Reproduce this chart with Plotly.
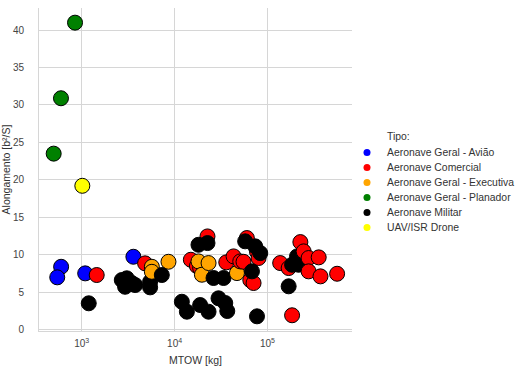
import plotly.graph_objects as go

# Legend categories (in legend order) and colours
categorias = ["Aeronave Geral - Avião", "Aeronave Comercial", "Aeronave Geral - Executiva",
              "Aeronave Geral - Planador", "Aeronave Militar", "UAV/ISR Drone"]
cores = ["blue", "red", "orange", "green", "black", "yellow"]

# Data points in drawing order: MTOW [kg], aspect ratio, type index
mtow = [847, 598, 499, 1015,
        600, 545, 1090, 3600,
        1190, 2700, 3055, 2930, 3760, 3460, 5450, 5450,
        1450, 4810, 5690, 5690, 8590, 7280,
        22600, 14960, 17380, 18840, 18070, 19680, 23200, 18070, 22600,
        26250, 33650, 35980, 43150, 46900, 50900, 55200,
        59980, 57500, 77100, 80200, 73800, 83600, 65300, 70800, 68100,
        11970, 13560, 18840, 23200, 29700, 35100, 36900, 77100,
        137000, 169000, 184000, 208000, 216000, 226000, 245000, 277000, 356000,
        277000, 372000, 562000, 169000, 184000]
along = [41.0, 30.9, 23.5, 19.2,
         8.38, 6.97, 7.5, 9.72,
         3.5, 6.61, 6.84, 5.71, 5.94, 6.21, 6.38, 5.63,
         7.28, 8.84, 8.38, 7.71, 9.05, 7.28,
         12.44, 9.32, 8.48, 8.21, 9.1, 7.32, 8.88, 11.32, 11.55,
         6.88, 6.88, 8.97, 9.77, 7.54, 9.1, 9.05,
         12.22, 11.78, 10.39, 9.55, 11.11, 10.21, 6.6, 6.21, 7.77,
         3.71, 2.38, 3.27, 2.38, 4.17, 3.54, 2.47, 1.76,
         8.88, 8.21, 8.65, 9.77, 8.65, 11.68, 10.44, 9.55, 9.64,
         7.77, 7.1, 7.45, 5.77, 1.9]
tipo = [3, 3, 3, 5,
        0, 0, 0, 0,
        4, 4, 4, 4, 4, 4, 4, 4,
        1, 1, 2, 2, 2, 4,
        1, 1, 1, 1, 2, 2, 2, 4, 4,
        4, 4, 1, 1, 2, 1, 1,
        1, 4, 1, 1, 4, 4, 1, 1, 4,
        4, 4, 4, 4, 4, 4, 4, 4,
        1, 1, 4, 4, 4, 1, 1, 1, 1,
        1, 1, 1, 4, 1]

x_ticks = [1000, 10000, 100000]
x_ticktext = ["10<sup>3</sup>", "10<sup>4</sup>", "10<sup>5</sup>"]
y_ticks = [0, 5, 10, 15, 20, 25, 30, 35, 40]
legend_title = "Tipo:"

W, H = 516, 367
L, R, T, B = 39, 164, 8, 36
PW, PH = W - L - R, H - T - B


def px_to_paper(px, py):
    return (px - L) / PW, (H - B - py) / PH


fig = go.Figure()
fig.add_trace(go.Scatter(
    x=mtow, y=along, mode="markers", showlegend=False, hoverinfo="x+y",
    marker=dict(size=15, color=[cores[t] for t in tipo],
                line=dict(color="black", width=1), opacity=1)))

font = "Liberation Sans, Arial, sans-serif"
txt = "#333333"
grid = "#d6d6d6"

# Custom legend (annotations + circle shapes) for compact spacing
annotations = []
shapes = []
tx, ty = px_to_paper(385, 137)
annotations.append(dict(text=legend_title, xref="paper", yref="paper", x=tx, y=ty,
                        xanchor="left", yanchor="middle", showarrow=False,
                        font=dict(size=10.4, color=txt)))
for i, (nome, cor) in enumerate(zip(categorias, cores)):
    cy = 152.5 + i * 15.0
    ax, ay = px_to_paper(385, cy)
    annotations.append(dict(text=nome, xref="paper", yref="paper", x=ax, y=ay,
                            xanchor="left", yanchor="middle", showarrow=False,
                            font=dict(size=10.4, color=txt)))
    x0, y0 = px_to_paper(367 - 3.5, cy + 3.5)
    x1, y1 = px_to_paper(367 + 3.5, cy - 3.5)
    shapes.append(dict(type="circle", xref="paper", yref="paper", x0=x0, y0=y0, x1=x1, y1=y1,
                       fillcolor=cor, line=dict(width=0)))

fig.update_layout(
    width=W, height=H,
    margin=dict(l=L, r=R, t=T, b=B, autoexpand=False),
    paper_bgcolor="white", plot_bgcolor="white",
    font=dict(family=font, size=10, color=txt),
    showlegend=False,
    annotations=annotations, shapes=shapes,
)
fig.update_xaxes(type="log", range=[2.54, 5.91], tickvals=x_ticks, ticktext=x_ticktext,
                 showgrid=True, gridcolor=grid, gridwidth=1, zeroline=False,
                 showline=True, linecolor=grid, linewidth=1, ticks="",
                 ticklabelstandoff=3, automargin=False,
                 title=dict(text="MTOW [kg]", standoff=8, font=dict(size=10.5)),
                 tickfont=dict(size=10, color="#444444"))
fig.update_yaxes(range=[-0.2, 42.96], tickvals=y_ticks,
                 showgrid=True, gridcolor=grid, gridwidth=1, zeroline=False,
                 showline=True, linecolor=grid, linewidth=1, ticks="",
                 ticklabelstandoff=12, automargin=False,
                 title=dict(text="Alongamento [b²/S]", standoff=5, font=dict(size=10.5)),
                 tickfont=dict(size=10, color="#444444"))

fig.write_html("out.html", config={"displayModeBar": False},
               post_script="document.body.style.margin='0';")
